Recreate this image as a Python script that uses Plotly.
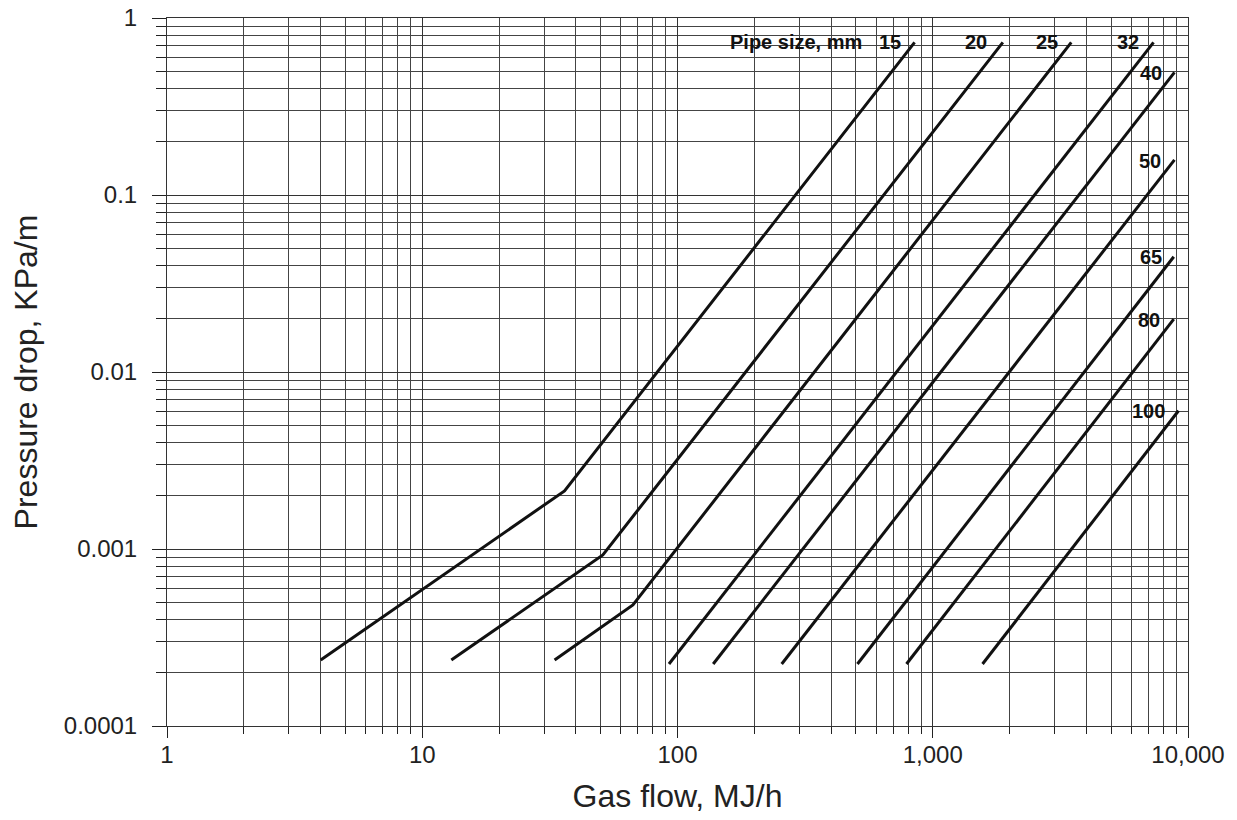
import plotly.graph_objects as go

# ---- data ----
pipe_sizes = ["15", "20", "25", "32", "40", "50", "65", "80", "100"]
flow_15 = [4.0, 36.1, 849]
drop_15 = [0.000236, 0.00213, 0.729]
flow_20 = [13.0, 51.0, 1882]
drop_20 = [0.000236, 0.000925, 0.729]
flow_25 = [33.0, 66.9, 3489]
drop_25 = [0.000236, 0.000483, 0.729]
flow_32 = [92.6, 7328]
drop_32 = [0.000224, 0.729]
flow_40 = [138, 8851]
drop_40 = [0.000224, 0.493]
flow_50 = [256, 8851]
drop_50 = [0.000224, 0.158]
flow_65 = [507, 8795]
drop_65 = [0.000224, 0.0448]
flow_80 = [789, 8795]
drop_80 = [0.000224, 0.0199]
flow_100 = [1567, 9180]
drop_100 = [0.000224, 0.00604]

x_major = [1, 10, 100, 1000, 10000]
x_major_text = ["1", "10", "100", "1,000", "10,000"]
y_major = [0.0001, 0.001, 0.01, 0.1, 1]
y_major_text = ["0.0001", "0.001", "0.01", "0.1", "1"]

series = [
    (flow_15, drop_15), (flow_20, drop_20), (flow_25, drop_25),
    (flow_32, drop_32), (flow_40, drop_40), (flow_50, drop_50),
    (flow_65, drop_65), (flow_80, drop_80), (flow_100, drop_100),
]

x_minor = [m * 10 ** e for e in range(0, 4) for m in range(2, 10)]
y_minor = [m * 10.0 ** e for e in range(-4, 0) for m in range(2, 10)]

fig = go.Figure()
for name, (xs, ys) in zip(pipe_sizes, series):
    fig.add_trace(go.Scatter(x=xs, y=ys, mode="lines", name=name,
                             line=dict(color="#111111", width=3),
                             showlegend=False))

label_font = dict(family="Liberation Sans, Arial, sans-serif", size=20, color="#111111")
# label positions (log10 coordinates)
labels = [
    ("<b>Pipe size, mm   15</b>", 2.884, -0.136, "right"),
    ("<b>20</b>", 3.169, -0.136, "center"),
    ("<b>25</b>", 3.447, -0.136, "center"),
    ("<b>32</b>", 3.764, -0.136, "center"),
    ("<b>40</b>", 3.854, -0.311, "center"),
    ("<b>50</b>", 3.850, -0.808, "center"),
    ("<b>65</b>", 3.854, -1.350, "center"),
    ("<b>80</b>", 3.846, -1.706, "center"),
    ("<b>100</b>", 3.846, -2.223, "center"),
]
for txt, lx, ly, anc in labels:
    fig.add_annotation(x=lx, y=ly, xref="x", yref="y", text=txt, showarrow=False,
                       xanchor=anc, yanchor="middle", font=label_font)

axis_font = dict(family="Liberation Sans, Arial, sans-serif", size=24, color="#222222")
title_font = dict(family="Liberation Sans, Arial, sans-serif", size=32, color="#222222")

# the page body adds an 8px offset, so the figure is sized to fit inside it
fig.update_layout(
    width=1229, height=812,
    margin=dict(l=159, r=49, t=10, b=94, autoexpand=False),
    paper_bgcolor="white", plot_bgcolor="white",
    xaxis=dict(
        type="log", range=[0, 4], automargin=False,
        tickmode="array", tickvals=x_major, ticktext=x_major_text,
        ticks="outside", ticklen=11, tickcolor="#222", tickwidth=1,
        showgrid=True, gridcolor="#333333", gridwidth=1,
        showline=True, linecolor="#333333", linewidth=1, mirror=True,
        tickfont=axis_font, ticklabelstandoff=-4, ticklabeloverflow="allow",
        minor=dict(tickmode="array", tickvals=x_minor, ticks="outside", ticklen=7,
                   tickcolor="#222", showgrid=True, gridcolor="#444444", gridwidth=1),
        title=dict(text="Gas flow, MJ/h", font=title_font, standoff=17),
        zeroline=False,
    ),
    yaxis=dict(
        type="log", range=[-4, 0], automargin=False,
        tickmode="array", tickvals=y_major, ticktext=y_major_text,
        ticks="outside", ticklen=14, tickcolor="#222", tickwidth=1,
        showgrid=True, gridcolor="#333333", gridwidth=1,
        showline=True, linecolor="#333333", linewidth=1, mirror=True,
        tickfont=axis_font, ticklabelstandoff=10, ticklabeloverflow="allow",
        minor=dict(tickmode="array", tickvals=y_minor, ticks="outside", ticklen=10,
                   tickcolor="#222", showgrid=True, gridcolor="#444444", gridwidth=1),
        title=dict(text="Pressure drop, KPa/m", font=title_font, standoff=45),
        zeroline=False,
    ),
)

fig.write_html("out.html")
